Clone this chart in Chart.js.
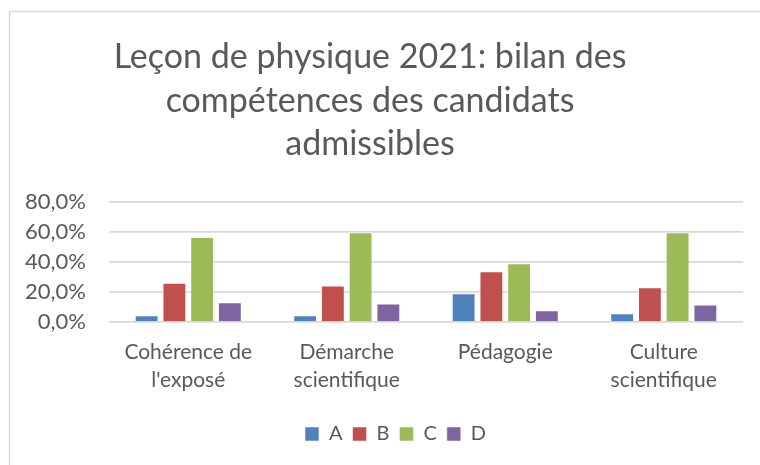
<!DOCTYPE html>
<html>
<head>
<meta charset="utf-8">
<script src="https://cdn.jsdelivr.net/npm/chart.js@4/dist/chart.umd.min.js"></script>
<style>
html, body { margin: 0; padding: 0; background: #fff; }
#wrap { width: 760px; height: 465px; position: relative; }
</style>
</head>
<body>
<div id="wrap"><canvas id="my-chart" width="760" height="465"></canvas></div>
<script>
//==========
// Data

const titleLines = ["Leçon de physique 2021: bilan des", "compétences des candidats", "admissibles"];
const categories = [["Cohérence de", "l'exposé"], ["Démarche", "scientifique"], ["Pédagogie"], ["Culture", "scientifique"]];
const seriesNames = ["A", "B", "C", "D"];
const valuesA = [4.5, 4.5, 19.2, 5.8];
const valuesB = [26.1, 24.3, 33.9, 23.2];
const valuesC = [56.6, 59.8, 39.2, 59.8];
const valuesD = [13.2, 12.3, 7.8, 11.6];
const yTicks = [0, 20, 40, 60, 80];
const colors = ["#4f81bd", "#c0504d", "#9bbb59", "#8064a2"];

const FONT = "Lato";
const TEXT = "#595959";

//==========
// Plugins

// frame round the chart (only top and left edges are in view)
const framePlugin = {
	id: "frame",
	beforeDraw(chart){
		const ctx = chart.ctx;
		ctx.save();
		ctx.strokeStyle = "#d9d9d9";
		ctx.lineWidth = 1.5;
		ctx.strokeRect(9.5, 11.5, 800, 500);
		ctx.restore();
	}
};

// title, centred a bit left of the middle as in the original
const titlePlugin = {
	id: "offTitle",
	afterDraw(chart){
		const ctx = chart.ctx;
		ctx.save();
		ctx.fillStyle = TEXT;
		ctx.font = "34px " + FONT;
		ctx.textAlign = "center";
		ctx.textBaseline = "alphabetic";
		titleLines.forEach((line, i)=>{
			ctx.fillText(line, 370, 68 + i * 43.5);
		});
		ctx.restore();
	}
};

// legend sits a little right of centre in the original
const legendShift = {
	id: "legendShift",
	afterLayout(chart){
		chart.legend.left += 24;
		chart.legend.right += 24;
	}
};

//==========
// Chart

const datasets = [valuesA, valuesB, valuesC, valuesD].map((vals, i)=>({
	label: seriesNames[i],
	data: vals,
	backgroundColor: colors[i],
	borderColor: "rgba(255,255,255,0.5)",
	borderWidth: 1,
	categoryPercentage: 0.7,
	barPercentage: 0.86
}));

const ctx = document.getElementById("my-chart").getContext("2d");
const myChart = new Chart(ctx, {
	type: "bar",
	data: {
		labels: categories,
		datasets: datasets
	},
	plugins: [framePlugin, titlePlugin, legendShift],
	options: {
		responsive: false,
		animation: false,
		layout: {
			padding: {left: 0, right: 17, top: 202, bottom: 11}
		},
		plugins: {
			title: {display: false},
			tooltip: {enabled: false},
			legend: {
				position: "bottom",
				labels: {
					color: TEXT,
					font: {family: FONT, size: 20},
					boxWidth: 14,
					boxHeight: 14,
					padding: 10
				}
			}
		},
		scales: {
			x: {
				afterFit(scale){ scale.height = 92; },
				grid: {display: false},
				border: {display: false},
				ticks: {
					color: TEXT,
					font: {family: FONT, size: 21, lineHeight: 1.35},
					maxRotation: 0,
					autoSkip: false,
					padding: 8
				}
			},
			y: {
				min: 0,
				max: 80,
				afterFit(scale){ scale.width = 109; },
				afterBuildTicks(scale){ scale.ticks = yTicks.map(v=>({value: v})); },
				grid: {color: "#d9d9d9", lineWidth: 1.7, drawTicks: false},
				border: {display: false},
				ticks: {
					color: TEXT,
					font: {family: FONT, size: 22},
					autoSkip: false,
					padding: 23,
					callback: v=>v.toFixed(1).replace(".", ",") + "%"
				}
			}
		}
	}
});
</script>
</body>
</html>
